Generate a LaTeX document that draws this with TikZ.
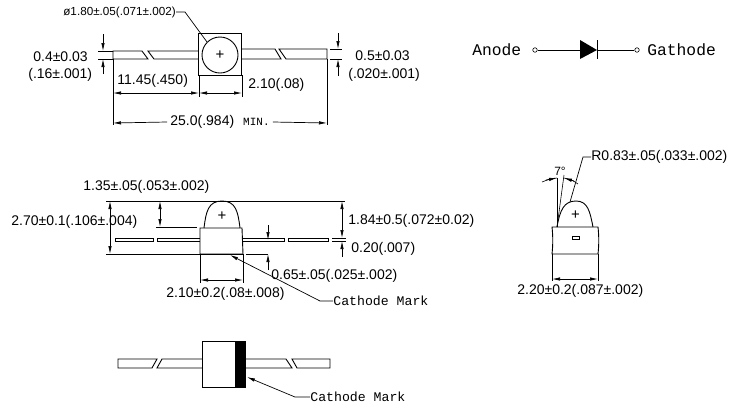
\documentclass[tikz,border=0pt]{standalone}
\usepackage{fontspec}
\setmainfont{Liberation Sans}
\newfontfamily\monofont{Liberation Mono}
\usepackage{xcolor}
\usetikzlibrary{arrows.meta}

\begin{document}
\begin{tikzpicture}[x=1pt, y=-1pt, line width=0.7pt, >={Latex[length=8pt,width=3.4pt]},
  lbl/.style={inner sep=0pt, anchor=west, font=\fontsize{14}{14}\selectfont},
  monolbl/.style={inner sep=0pt, anchor=west, font=\fontsize{13.2}{14}\monofont},
  symlbl/.style={inner sep=0pt, anchor=west, font=\fontsize{16.3}{17}\monofont},
  cross/.style={inner sep=0pt, font=\fontsize{15}{15}\selectfont},
  part/.style={line width=0.9pt},
  thin dim/.style={line width=0.6pt},
  pin/.style={draw, circle, inner sep=0pt, minimum size=4.5pt, line width=0.6pt}]
\useasboundingbox (0,0) rectangle (746,408);

% top view
\coordinate (TL) at (198,33);
\coordinate (BR) at (241,75);
\draw[part] (TL) rectangle (BR);
\node[draw, circle, part, minimum size=36pt, inner sep=0pt] (lens) at (220,55) {};
\node[cross] (lenscross) at (220,55) {+};
\draw[part] (113,51) -- (142,51) -- (148,59) -- (113,59) -- cycle;
\draw[part] (198,51) -- (148,51) -- (154,59) -- (198,59);
\draw[part] (241,49) -- (275,49) -- (281,59) -- (241,59);
\draw[part] (279,49) -- (286,59) -- (327,59) -- (327,49) -- cycle;

\node[lbl, font=\fontsize{11.7}{12}\selectfont] (dialbl) at (63,12) {ø1.80±.05(.071±.002)};
\coordinate (diaknee) at (185,12);
\draw (dialbl.east) to (diaknee) to (lens.north west);

\node[lbl] (leftlbla) at (33,57) {0.4±0.03};
\node[lbl] (leftlblb) at (28,75) {(.16±.001)};
\coordinate (La) at (103,34);
\coordinate (Lb) at (103,51);
\coordinate (Lc) at (103,59);
\coordinate (Ld) at (103,74);
\draw[->] (La) to (Lb);
\draw[->] (Ld) to (Lc);
\draw[thin dim] (98,51) -- (113,51);
\draw[thin dim] (98,59) -- (113,59);

\node[lbl] (rightlbla) at (355,56) {0.5±0.03};
\node[lbl] (rightlblb) at (348,75) {(.020±.001)};
\coordinate (Ra) at (338,33);
\coordinate (Rb) at (338,49);
\coordinate (Rc) at (338,59);
\coordinate (Rd) at (338,76);
\draw[->] (Ra) to (Rb);
\draw[->] (Rd) to (Rc);
\draw[thin dim] (330,49) -- (342,49);
\draw[thin dim] (330,59) -- (342,59);

\coordinate (Wa) at (113,93);
\coordinate (Wb) at (199,93);
\coordinate (Wc) at (242,93);
\draw[thin dim] (113,59) -- (113,125);
\draw[thin dim] (199,75) -- (199,97);
\draw[thin dim] (242,75) -- (242,97);
\draw[thin dim] (327,59) -- (327,125);
\draw[<->] (Wa) to (Wb);
\draw[<->] (Wb) to (Wc);
\node[lbl] (leadlbl) at (117,81) {11.45(.450)};
\node[lbl] (bodylbl) at (248,85) {2.10(.08)};
\node[lbl, anchor=center, inner xsep=3pt] (totallbl) at (220,122) {25.0(.984)\hspace{9pt}{\fontsize{11}{12}\monofont MIN.}};
\coordinate (Ta) at (113,123);
\coordinate (Tb) at (327,123);
\draw[<-] (Ta) to (totallbl.west);
\draw[<-] (Tb) to (totallbl.east);

% symbol
\node[symlbl] (anodelbl) at (472,50) {Anode};
\node[symlbl] (gathodelbl) at (647,50) {Gathode};
\node[pin] (anodepin) at (535,50) {};
\node[pin] (gathodepin) at (637,50) {};
\coordinate (triA) at (580,40);
\coordinate (triB) at (580,59);
\coordinate (triC) at (597,50);
\draw (anodepin) to (580,50);
\draw (triC) to (gathodepin);
\fill (triA) -- (triC) -- (triB) -- cycle;
\draw[line width=1pt] (597,40) -- (597,59);

% side view
\draw[part] (200,254) -- (200,228) -- (242,228) -- (243,254) -- cycle;
\draw[part] (204,228) .. controls (206,212) and (208,201) .. (222,201) .. controls (236,201) and (238,212) .. (240,228);
\node[cross] (sidecross) at (222,216) {+};
\draw[part] (115,238) -- (153,238) -- (153,241) -- (115,241) -- cycle;
\draw[part] (200,238) -- (157,238) -- (157,241) -- (200,241);
\draw[part] (242,238) -- (284,238) -- (284,241) -- (242,241);
\draw[part] (288,241) -- (288,238) -- (328,238) -- (328,241) -- cycle;

\draw[thin dim] (106,201) -- (345,201);
\draw[thin dim] (106,254) -- (243,254);
\draw[thin dim] (156,227) -- (197,227);
\draw[thin dim] (246,254) -- (268,254);
\draw[thin dim] (332,238) -- (346,238);
\draw[thin dim] (332,241) -- (346,241);
\draw[thin dim] (200,254) -- (200,283);
\draw[thin dim] (243,254) -- (243,283);

\coordinate (Ha) at (110,201);
\coordinate (Hb) at (110,254);
\draw[<->] (Ha) to (Hb);
\coordinate (Da) at (160,201);
\coordinate (Db) at (160,227);
\draw[<->] (Da) to (Db);
\coordinate (Ea) at (268,225);
\coordinate (Eb) at (268,240);
\coordinate (Ec) at (268,270);
\coordinate (Ed) at (268,254);
\draw[->] (Ea) to (Eb);
\draw[->] (Ec) to (Ed);
\coordinate (Fa) at (342,201);
\coordinate (Fb) at (342,238);
\coordinate (Fc) at (342,257);
\coordinate (Fd) at (342,241);
\draw[<->] (Fa) to (Fb);
\draw[->] (Fc) to (Fd);
\coordinate (Ga) at (200,280);
\coordinate (Gb) at (243,280);
\draw[<->] (Ga) to (Gb);

\node[lbl] (domelbl) at (83,187) {1.35±.05(.053±.002)};
\node[lbl] (heightlbl) at (11,222) {2.70±0.1(.106±.004)};
\node[lbl] (totalhlbl) at (348,221) {1.84±0.5(.072±0.02)};
\node[lbl] (leadthlbl) at (351,249) {0.20(.007)};
\node[lbl] (standlbl) at (271,276) {0.65±.05(.025±.002)};
\node[lbl] (widthlbl) at (166,294) {2.10±0.2(.08±.008)};
\node[monolbl] (marklbl) at (333,301) {Cathode Mark};
\coordinate (markknee) at (320,301);
\coordinate (marktip) at (230,255);
\draw[->] (marklbl.west) to (markknee) to (marktip);

% end view
\draw[part] (552,227) .. controls (553,236) and (553,245) .. (552,254) -- (598,254) .. controls (599,245) and (599,236) .. (598,227) -- cycle;
\draw[part] (557,227) .. controls (560,210) and (564,201) .. (576,201) .. controls (588,201) and (590,212) .. (593,227);
\node[cross] (endcross) at (575.5,215) {+};
\draw (572,236) rectangle (579,239);

\coordinate (Aa) at (557,227);
\coordinate (Ab) at (557,178);
\coordinate (Ac) at (564,175);
\draw[thin dim] (Aa) to (Ab);
\draw[thin dim] (Aa) to (Ac);
\draw[thin dim] (542,182) .. controls (547,180) and (552,178) .. (557,178);
\draw[thin dim] (564,178) .. controls (570,179) and (574,181) .. (578,184);
\draw[->] (546,180) to (557,178);
\draw[->] (574,181) to (564,178);
\node[inner sep=0pt, font=\fontsize{12}{12}\selectfont] (anglelbl) at (560,171) {7°};

\node[lbl] (radiuslbl) at (591,157) {R0.83±.05(.033±.002)};
\coordinate (radiusknee) at (583,157);
\coordinate (radiustip) at (570,202);
\draw (radiuslbl.west) to (radiusknee) to (radiustip);

\draw[thin dim] (552,254) -- (552,281);
\draw[thin dim] (598,254) -- (598,281);
\coordinate (Ja) at (552,279);
\coordinate (Jb) at (598,279);
\draw[<->] (Ja) to (Jb);
\node[lbl] (endwidthlbl) at (517,291) {2.20±0.2(.087±.002)};

% bottom view
\draw[part] (235,341) -- (202,341) -- (202,387) -- (235,387);
\fill (235,341) rectangle (246,388);
\draw[part] (118,359) -- (157,359) -- (152,368) -- (118,368) -- cycle;
\draw[part] (202,359) -- (162,359) -- (157,368) -- (202,368);
\draw[part] (246,359) -- (286,359) -- (292,368) -- (246,368);
\draw[part] (292,359) -- (297,368) -- (330,368) -- (330,359) -- cycle;
\node[monolbl] (marklblb) at (310,397) {Cathode Mark};
\coordinate (marklknee) at (295,397);
\coordinate (marktipb) at (247,377);
\draw[->] (marklblb.west) to (marklknee) to (marktipb);
\end{tikzpicture}
\end{document}
